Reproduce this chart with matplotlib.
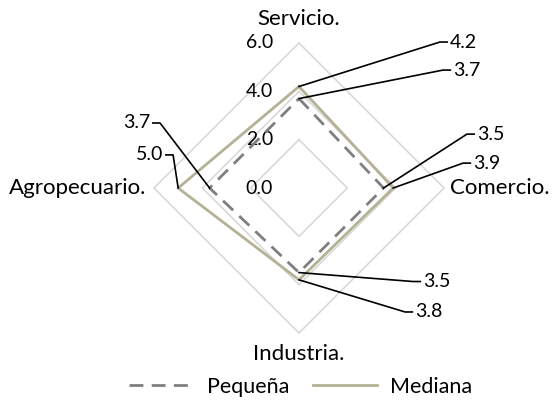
#Grafico radar Pequeña vs Mediana
import matplotlib.pyplot as plt
import numpy as np

plt.rcParams['font.family'] = ['Lato', 'DejaVu Sans']

#Datos
categorias = ['Servicio.', 'Comercio.', 'Industria.', 'Agropecuario.']
angulos = [90, 0, 270, 180]  # grados, sentido horario desde arriba
pequena = [3.7, 3.5, 3.5, 3.7]
mediana = [4.2, 3.9, 3.8, 5.0]
niveles = [2.0, 4.0, 6.0]
etiquetas_eje = ['0.0', '2.0', '4.0', '6.0']

color_peq = '#7f7f7f'
color_med = '#b5b196'
color_grid = '#d9d9d9'
fs = 14   # numeros
fs_txt = 16  # palabras

def polar_xy(valores):
    a = np.radians(angulos + angulos[:1])
    v = np.array(list(valores) + [valores[0]])
    return v * np.cos(a), v * np.sin(a)

fig = plt.figure(figsize=(5.54, 4.07), dpi=100)
ax = fig.add_axes([0, 0, 1, 1])
escala = 145 / 6.0  # pixeles por unidad
ax.set_xlim(-299 / escala, (554 - 299) / escala)
ax.set_ylim(-(407 - 188) / escala, 188 / escala)
ax.axis('off')

#Rejilla en forma de rombo
for n in niveles:
    gx, gy = polar_xy([n] * 4)
    ax.plot(gx, gy, color=color_grid, lw=1.2, zorder=1)

#Etiquetas del eje radial
for i, t in enumerate(etiquetas_eje):
    ax.text(-1.08, i * 2.0, t, ha='right', va='center', fontsize=fs)

#Series
px, py = polar_xy(pequena)
ax.plot(px, py, color=color_peq, lw=2, ls=(0, (5, 3)), label='Pequeña', zorder=3)
mx, my = polar_xy(mediana)
ax.plot(mx, my, color=color_med, lw=2, label='Mediana', zorder=2)

#Nombres de categorias
ax.text(0, 7.0, categorias[0], ha='center', va='center', fontsize=fs_txt)
ax.text(6.25, 0, categorias[1], ha='left', va='center', fontsize=fs_txt)
ax.text(0, -6.85, categorias[2], ha='center', va='center', fontsize=fs_txt)
ax.text(-6.3, 0, categorias[3], ha='right', va='center', fontsize=fs_txt)

#Etiquetas de datos con linea guia: (serie, indice, codo x, codo y, direccion)
guias = [
    (mediana, 0, 5.83, 6.04, 1),
    (pequena, 0, 5.96, 4.88, 1),
    (pequena, 1, 6.95, 2.23, 1),
    (mediana, 1, 6.79, 1.03, 1),
    (pequena, 2, 4.72, -3.87, 1),
    (mediana, 2, 4.39, -5.13, 1),
    (pequena, 3, -5.75, 2.69, -1),
    (mediana, 3, -5.21, 1.37, -1),
]
for serie, i, ex, ey, d in guias:
    a = np.radians(angulos[i])
    x0, y0 = serie[i] * np.cos(a), serie[i] * np.sin(a)
    ax.plot([x0, ex, ex + d * 0.3], [y0, ey, ey], color='black', lw=1.2, zorder=4)
    ax.text(ex + d * 0.42, ey, '%.1f' % serie[i], ha='left' if d > 0 else 'right',
            va='center', fontsize=fs)

fig.legend(loc='lower center', ncol=2, frameon=False, fontsize=15.5,
           handlelength=3.0, handletextpad=0.6, columnspacing=1.1,
           bbox_to_anchor=(0.543, -0.022))

fig.savefig('out.png', dpi=100)
